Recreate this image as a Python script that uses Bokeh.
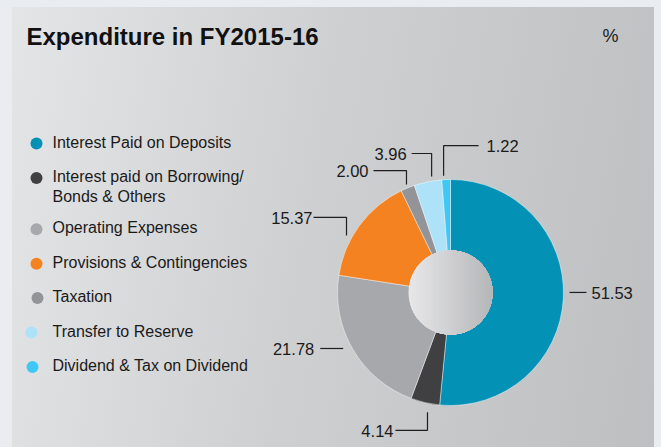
import math
import numpy as np
from bokeh.plotting import figure
from bokeh.models import Range1d
from bokeh.core.properties import value
from bokeh.embed import file_html
from bokeh.resources import INLINE

# ---------------- data ----------------
title = "Expenditure in FY2015-16"
unit_label = "%"
categories = [
    "Interest Paid on Deposits",
    "Interest paid on Borrowing/\nBonds & Others",
    "Operating Expenses",
    "Provisions & Contingencies",
    "Taxation",
    "Transfer to Reserve",
    "Dividend & Tax on Dividend",
]
values = [51.53, 4.14, 21.78, 15.37, 2.00, 3.96, 1.22]
colors = ["#0391b6", "#404042", "#a7a8ab", "#f48220", "#939497", "#aee2f9", "#40c8f4"]

# ---------------- layout constants ----------------
W, H = 642, 440
FONT = "Liberation Sans"
cx, cy = 438, 155          # donut centre (px)
R_OUT, R_IN = 113, 42
# label leader layout: fraction within slice, radial gap, vertical leg (px, +down), horizontal leg, text gap
lab_frac = [0.485, 0.36, 0.536, 0.36, 0.51, 0.66, 0.23]
lab_gap = [6, 9, 8, 5.6, 3.6, 4.5, 4]
lab_v = [0, 18, 0, -18, -14, -23, -30]
lab_h = [17, -32, -23, -33, -33, -20, 35]
lab_tg = [5, 2, 6, 1, 5, 5, 8]
# legend layout
leg_x_marker = [24, 24, 24, 24, 25, 19, 20]
leg_x_text = 40
leg_top = 304
leg_step = 34.4
leg_extra = 17
leg_line = 20

p = figure(width=W, height=H, output_backend="svg", toolbar_location=None,
           x_range=Range1d(0, W), y_range=Range1d(0, H),
           x_axis_type=None, y_axis_type=None,
           min_border=0, min_border_left=0, min_border_right=0,
           min_border_top=0, min_border_bottom=0)
p.grid.visible = False
p.outline_line_color = None
p.background_fill_color = None
p.border_fill_color = None
p.styles = {
    "background": "linear-gradient(100deg, #e4e5e7 0%, #cfd0d2 45%, #bebfc1 100%)",
    "margin-left": "12px",
    "margin-top": "7px",
}

# ---------------- donut ----------------
total = sum(values)
cum = np.concatenate([[0], np.cumsum(values)]) / total * 360.0
starts_cw = cum[:-1]
ends_cw = cum[1:]
p.wedge(x=cx, y=cy, radius=R_OUT,
        start_angle=[math.radians(90 - s) for s in starts_cw],
        end_angle=[math.radians(90 - e) for e in ends_cw],
        direction="clock", fill_color=colors,
        line_color="white", line_alpha=0.55, line_width=0.8)

# hole with a horizontal gradient (overlapping circle segments)
N = 48
c0 = np.array([0xe8, 0xe8, 0xea], dtype=float)
c1 = np.array([0xb5, 0xb6, 0xb8], dtype=float)
xs_h, ys_h, cols_h = [], [], []
for i in range(N):
    xi = cx - R_IN + 2 * R_IN * i / N
    a = math.acos(max(-1.0, min(1.0, (xi - cx) / R_IN)))
    t = np.linspace(-a, a, 60)
    xs_h.append(list(cx + R_IN * np.cos(t)))
    ys_h.append(list(cy + R_IN * np.sin(t)))
    f = (i + 0.5) / N
    c = c0 + (c1 - c0) * f
    cols_h.append("#%02x%02x%02x" % tuple(int(round(v)) for v in c))
p.patches(xs=xs_h, ys=ys_h, fill_color=cols_h, line_color=None)

# ---------------- value labels with leader lines ----------------
lx, ly, tx, ty, ttext, talign = [], [], [], [], [], []
for i, v in enumerate(values):
    th = math.radians(starts_cw[i] + lab_frac[i] * (ends_cw[i] - starts_cw[i]))
    r = R_OUT + lab_gap[i]
    ax = cx + r * math.sin(th)
    ay = cy + r * math.cos(th)
    bx, by = ax, ay - lab_v[i]
    ex, ey = bx + lab_h[i], by
    if lab_v[i] != 0:
        lx.append([ax, bx, ex]); ly.append([ay, by, ey])
    else:
        lx.append([ax, ex]); ly.append([ay, ey])
    if lab_h[i] > 0:
        tx.append(ex + lab_tg[i]); talign.append("left")
    else:
        tx.append(ex - lab_tg[i]); talign.append("right")
    ty.append(ey)
    ttext.append("%.2f" % v)
p.multi_line(xs=lx, ys=ly, line_color="#1e1e1e", line_width=1.2)
for i in range(len(values)):
    p.text(x=[tx[i]], y=[ty[i] - 0.5], text=[ttext[i]], text_align=talign[i],
           text_baseline="middle", text_font=value(FONT),
           text_font_size="16.5px", text_color="#1a1a1a")

# ---------------- legend ----------------
mx, my, mc = [], [], []
gx, gy, gt = [], [], []
extra = 0
for i, lab in enumerate(categories):
    yc = leg_top - leg_step * i - leg_extra * extra
    mx.append(leg_x_marker[i]); my.append(yc); mc.append(colors[i])
    lines = lab.split("\n")
    for k, ln in enumerate(lines):
        gx.append(leg_x_text); gy.append(yc + 1.5 - leg_line * k); gt.append(ln)
    extra += len(lines) - 1
p.scatter(x=mx, y=my, size=12, marker="circle", fill_color=mc, line_color=None)
p.text(x=gx, y=gy, text=gt, text_align="left", text_baseline="middle",
       text_font=value(FONT), text_font_size="16px", text_color="#1a1a1a")

# ---------------- title and unit ----------------
p.text(x=[14], y=[411], text=[title], text_align="left", text_baseline="middle",
       text_font=value(FONT), text_font_style="bold", text_font_size="24px",
       text_color="#111111")
p.text(x=[590], y=[412], text=[unit_label], text_align="left", text_baseline="middle",
       text_font=value(FONT), text_font_size="18px", text_color="#222222")

html = file_html(p, INLINE, "Expenditure in FY2015-16")
html = html.replace("<head>", "<head><style>body{background:#e9ecf1;}</style>", 1)
open("out.html", "w").write(html)
